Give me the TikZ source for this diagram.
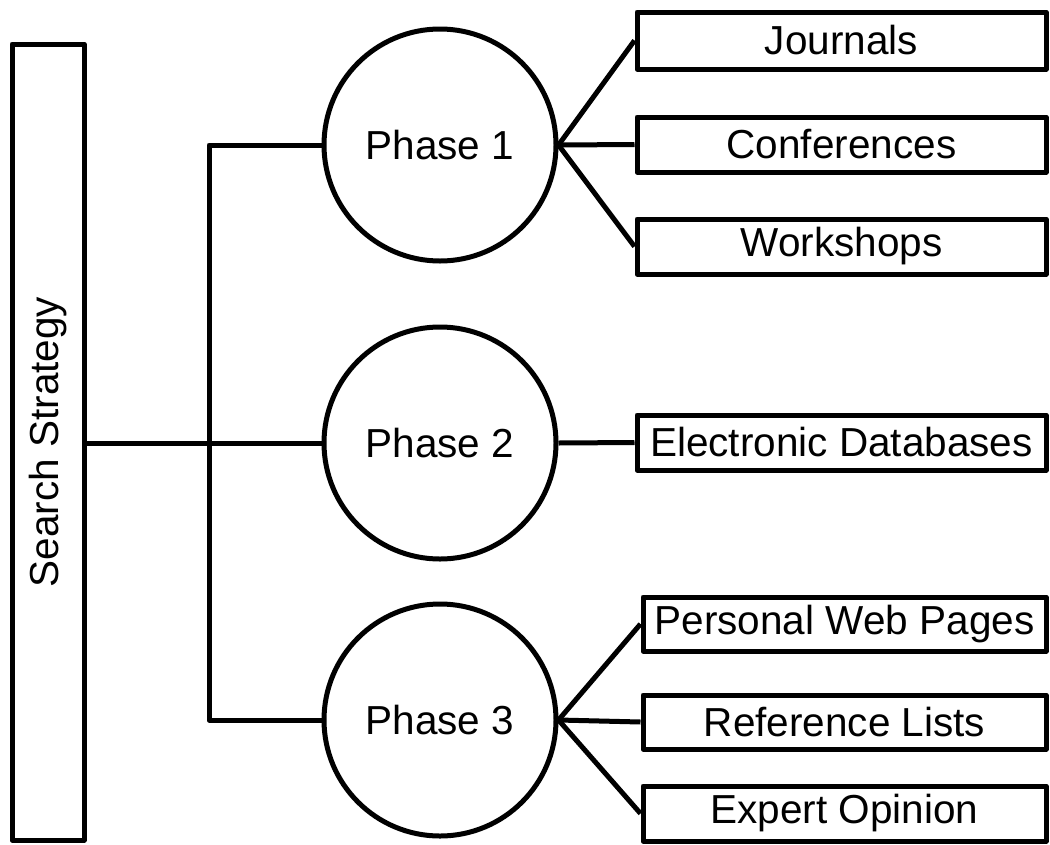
\documentclass[tikz,border=0pt]{standalone}
\usepackage{fontspec}
\setmainfont{Liberation Sans}
\begin{document}
\begin{tikzpicture}[x=1pt,y=-1pt,
  lw/.style={line width=5pt, line join=round},
  txt/.style={font=\fontsize{40.5}{48}\selectfont},
  phase/.style={lw, draw, circle, minimum size=232pt, inner sep=0pt, txt},
  srcbox/.style={lw, draw, rectangle, inner sep=0pt, txt},
  link/.style={lw}]
\useasboundingbox (0,0) rectangle (1050,844);
% main box
\node[srcbox, minimum width=72pt, minimum height=796pt] (ss) at (48,442) {};
\node[txt, rotate=90] (sst) at (48,442) {Search Strategy};
% phases
\node[phase] (p1) at (440,145) {Phase 1};
\node[phase] (p2) at (440,443) {Phase 2};
\node[phase] (p3) at (440,720) {Phase 3};
% sources
\node[srcbox, minimum width=409pt, minimum height=57pt] (j) at (841.5,40.5) {Journals};
\node[srcbox, minimum width=409pt, minimum height=55pt] (c) at (841.5,144.5) {Conferences};
\node[srcbox, minimum width=409pt, minimum height=55pt] (w) at (841.5,246.5) {Workshops};
\node[srcbox, minimum width=409pt, minimum height=55pt] (e) at (841.5,442.5) {Electronic Databases};
\node[srcbox, minimum width=403pt, minimum height=54pt] (pw) at (844.5,624) {Personal Web Pages};
\node[srcbox, minimum width=403pt, minimum height=54pt] (rl) at (844.5,722) {Reference Lists};
\node[srcbox, minimum width=403pt, minimum height=55pt] (eo) at (844.5,813.5) {Expert Opinion};
% trunk
\coordinate (bt) at (209,145);
\coordinate (bm) at (209,443);
\coordinate (bb) at (209,720);
\draw[link] (ss.east |- p2) -- (p2.west);
\draw[link] (p1.west) -- (bt) -- (bb) -- (p3.west);
% branches
\draw[link] (p1.east) -- (j.west);
\draw[link] (p1.east) -- (c.west);
\draw[link] (p1.east) -- (w.west);
\draw[link] (p2.east) -- (e.west);
\draw[link] (p3.east) -- (pw.west);
\draw[link] (p3.east) -- (rl.west);
\draw[link] (p3.east) -- (eo.west);
\end{tikzpicture}
\end{document}
